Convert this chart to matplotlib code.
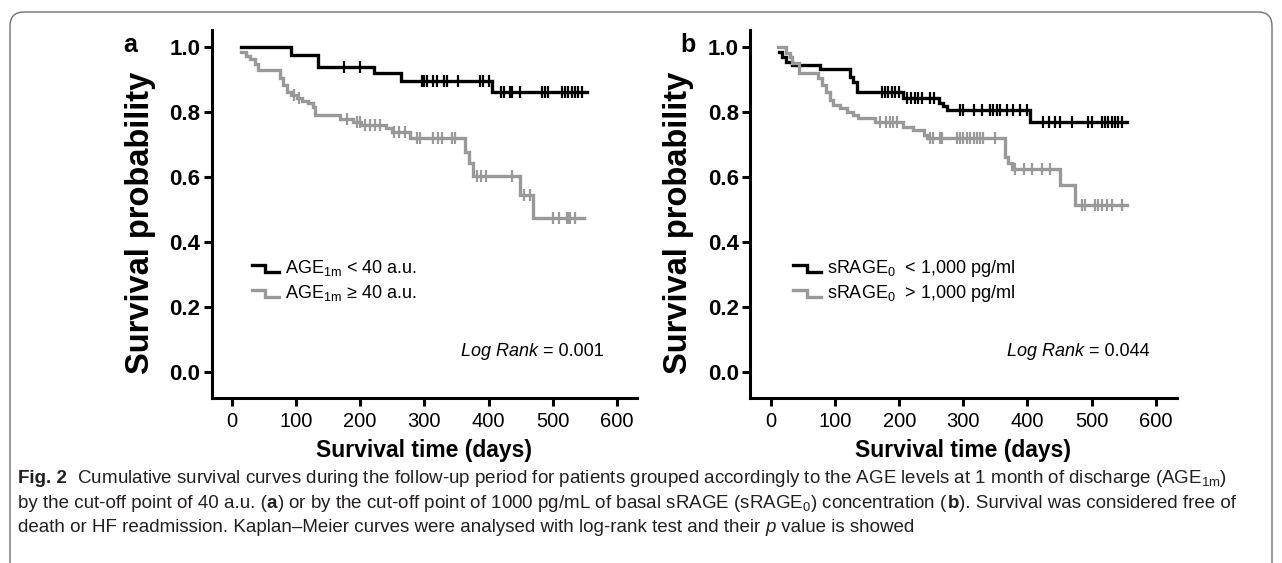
import numpy as np
import matplotlib.pyplot as plt
from matplotlib.patches import FancyBboxPatch

plt.rcParams['font.family'] = ['Liberation Sans', 'DejaVu Sans']
plt.rcParams['mathtext.default'] = 'regular'

W, H = 1282, 563

# panel a: AGE at 1 month (times in days, KM survival after each step)
a_low_t = [15, 92, 135, 222, 264, 405]
a_low_s = [1.0, 0.975, 0.938, 0.918, 0.894, 0.862]
a_low_end = 553
a_low_cens = [175, 200, 296, 300, 304, 314, 320, 330, 335, 353, 386, 392, 400,
              420, 424, 433, 437, 449, 483, 488, 493, 514, 519, 524, 530, 535, 540, 545]

a_high_t = [14.5, 22, 28.5, 36, 41, 75, 80, 86, 93, 101, 109, 119, 127, 130, 169, 189,
            202, 241, 249, 278, 363, 369, 376, 449, 470]
a_high_s = [0.985, 0.971, 0.961, 0.947, 0.928, 0.903, 0.882, 0.862, 0.851, 0.841, 0.834,
            0.826, 0.815, 0.790, 0.777, 0.769, 0.759, 0.749, 0.738, 0.718, 0.677, 0.641,
            0.602, 0.544, 0.472]
a_high_end = 548
a_high_cens = [97, 105, 179, 195, 200, 208, 215, 223, 231, 252, 260, 270, 288, 293, 314,
               322, 327, 343, 348, 382, 389, 396, 436, 455, 465, 501, 509, 522, 524, 527, 535]

# panel b: basal sRAGE
b_low_t = [12.5, 17, 24, 32, 76, 123, 128, 134, 206, 262, 268, 275, 404]
b_low_s = [0.985, 0.969, 0.954, 0.944, 0.930, 0.908, 0.892, 0.862, 0.842, 0.828, 0.818,
           0.805, 0.769]
b_low_end = 555
b_low_cens = [173, 178, 183, 188, 193, 199, 212, 218, 224, 230, 236, 248, 255, 295, 300,
              316, 329, 342, 347, 352, 357, 368, 378, 389, 399, 425, 433, 443, 451, 469,
              495, 500, 516, 521, 526, 532, 537, 542, 547]

b_high_t = [11, 24, 29, 32, 43, 74, 80, 86, 92, 96, 108, 118, 128, 135, 162, 206, 222,
            238, 243, 365, 370, 376, 451, 474]
b_high_s = [1.0, 0.98, 0.969, 0.949, 0.918, 0.903, 0.882, 0.862, 0.836, 0.820, 0.810,
            0.800, 0.790, 0.780, 0.769, 0.754, 0.744, 0.728, 0.718, 0.662, 0.641, 0.623,
            0.574, 0.513]
b_high_end = 555
b_high_cens = [170, 180, 186, 190, 196, 248, 253, 264, 266, 290, 295, 300, 305, 310, 316,
               321, 326, 331, 349, 381, 394, 407, 422, 435, 485, 490, 505, 510, 516, 524,
               532, 547]

a_labels = ['AGE$_{1m}$ < 40 a.u.', 'AGE$_{1m}$ \u2265 40 a.u.']
b_labels = ['sRAGE$_0$  < 1,000 pg/ml', 'sRAGE$_0$  > 1,000 pg/ml']
a_p = '0.001'
b_p = '0.044'

BLACK = '#000000'
GREY = '#999999'


def km(ax, t, s, end, cens, color):
    x = np.append(t, end)
    y = np.append(s, s[-1])
    ax.step(x, y, where='post', color=color, lw=2.4, solid_joinstyle='miter')
    idx = np.searchsorted(t, cens, side='right') - 1
    ax.plot(cens, np.array(s)[idx], ls='none', marker='|', ms=8, mew=1.6, color=color)


def style_axes(ax, xlim):
    ax.set_xlim(*xlim)
    ax.set_ylim(-0.0818, 1.0514)
    for sp in ['top', 'right']:
        ax.spines[sp].set_visible(False)
    for sp in ['left', 'bottom']:
        ax.spines[sp].set_linewidth(2.2)
    ax.set_xticks(np.arange(0, 601, 100))
    ax.set_yticks(np.arange(0, 1.01, 0.2))
    ax.set_yticklabels(['%.1f' % v for v in np.arange(0, 1.01, 0.2)])
    ax.tick_params(axis='both', direction='out', length=6, width=2.2, pad=2)
    for lab in ax.get_yticklabels():
        lab.set_fontsize(16)
        lab.set_fontweight('bold')
    for lab in ax.get_xticklabels():
        lab.set_fontsize(14.5)
    ax.tick_params(axis='x', pad=4)
    ax.set_xlabel('Survival time (days)', fontsize=16.5, fontweight='bold')
    ax.xaxis.label.set_va('center')
    ax.xaxis.set_label_coords(0.5, -0.143)
    ax.set_ylabel('Survival probability', fontsize=23.5, fontweight='bold')
    ax.yaxis.label.set_va('center')
    ax.yaxis.set_label_coords(-0.168, 0.475)


def step_legend(ax, x0, labels):
    ys = [0.353, 0.285]
    for y, lab, c in zip(ys, labels, [BLACK, GREY]):
        xs = [x0, x0 + 0.032, x0 + 0.032, x0 + 0.064]
        yy = [y + 0.009, y + 0.009, y - 0.009, y - 0.009]
        ax.plot(xs, yy, color=c, lw=2.4, transform=ax.transAxes, clip_on=False,
                solid_joinstyle='miter')
        ax.text(x0 + 0.078, y, lab, transform=ax.transAxes, fontsize=13, va='center')


fig = plt.figure(figsize=(W / 100, H / 100), dpi=100)

bottom = (H - 398.3) / H
height = 368.3 / H
ax_a = fig.add_axes([211.7 / W, bottom, 425 / W, height])
ax_b = fig.add_axes([750 / W, bottom, 426.7 / W, height])

km(ax_a, a_low_t, a_low_s, a_low_end, a_low_cens, BLACK)
km(ax_a, a_high_t, a_high_s, a_high_end, a_high_cens, GREY)
km(ax_b, b_low_t, b_low_s, b_low_end, b_low_cens, BLACK)
km(ax_b, b_high_t, b_high_s, b_high_end, b_high_cens, GREY)

style_axes(ax_a, (-31.2, 630.8))
style_axes(ax_b, (-32.8, 632.9))

step_legend(ax_a, 0.094, a_labels)
step_legend(ax_b, 0.1015, b_labels)

for ax, p, xr in [(ax_a, a_p, 0.923), (ax_b, b_p, 0.937)]:
    t = ax.text(xr, 0.128, ' = ' + p, transform=ax.transAxes, fontsize=13,
                ha='right', va='center')
    ax.annotate('Log Rank', xy=(0, 0), xycoords=t, ha='right', va='bottom',
                fontsize=13, fontstyle='italic')

fig.text(130 / W, 1 - 45 / H, 'a', fontsize=18, fontweight='bold', ha='center', va='center')
fig.text(688 / W, 1 - 45 / H, 'b', fontsize=18, fontweight='bold', ha='center', va='center')

# rounded frame around the figure
frame = FancyBboxPatch((0.10, -0.2), 12.62, 5.51 + 0.2,
                       boxstyle='round,pad=0,rounding_size=0.14',
                       transform=fig.dpi_scale_trans, fill=False,
                       edgecolor='#707070', lw=1.0)
fig.patches.append(frame)

# caption
CAP_FONT = ['Liberation Sans']
CAP_FS = 13.5

cap_lines = [
    [('Fig. 2', 'bold', 'normal'),
     ('  Cumulative survival curves during the follow-up period for patients grouped '
      'accordingly to the AGE levels at 1 month of discharge (AGE$_{1m}$)', 'normal', 'normal')],
    [('by the cut-off point of 40 a.u. (', 'normal', 'normal'), ('a', 'bold', 'normal'),
     (') or by the cut-off point of 1000 pg/mL of basal sRAGE (sRAGE$_0$) concentration (',
      'normal', 'normal'),
     ('b', 'bold', 'normal'), ('). Survival was considered free of', 'normal', 'normal')],
    [('death or HF readmission. Kaplan\u2013Meier curves were analysed with log-rank test '
      'and their ', 'normal', 'normal'), ('p', 'normal', 'italic'),
     (' value is showed', 'normal', 'normal')],
]
cap_y = [483, 508, 532]

renderer = fig.canvas.get_renderer()
for y_px, pieces in zip(cap_y, cap_lines):
    x_px = 18
    for txt, weight, style in pieces:
        t = fig.text(x_px / W, 1 - y_px / H, txt, fontsize=CAP_FS, fontweight=weight,
                     fontstyle=style, family=CAP_FONT, va='baseline', color='#231f20')
        x_px = t.get_window_extent(renderer).x1

fig.savefig('out.png', dpi=100)
